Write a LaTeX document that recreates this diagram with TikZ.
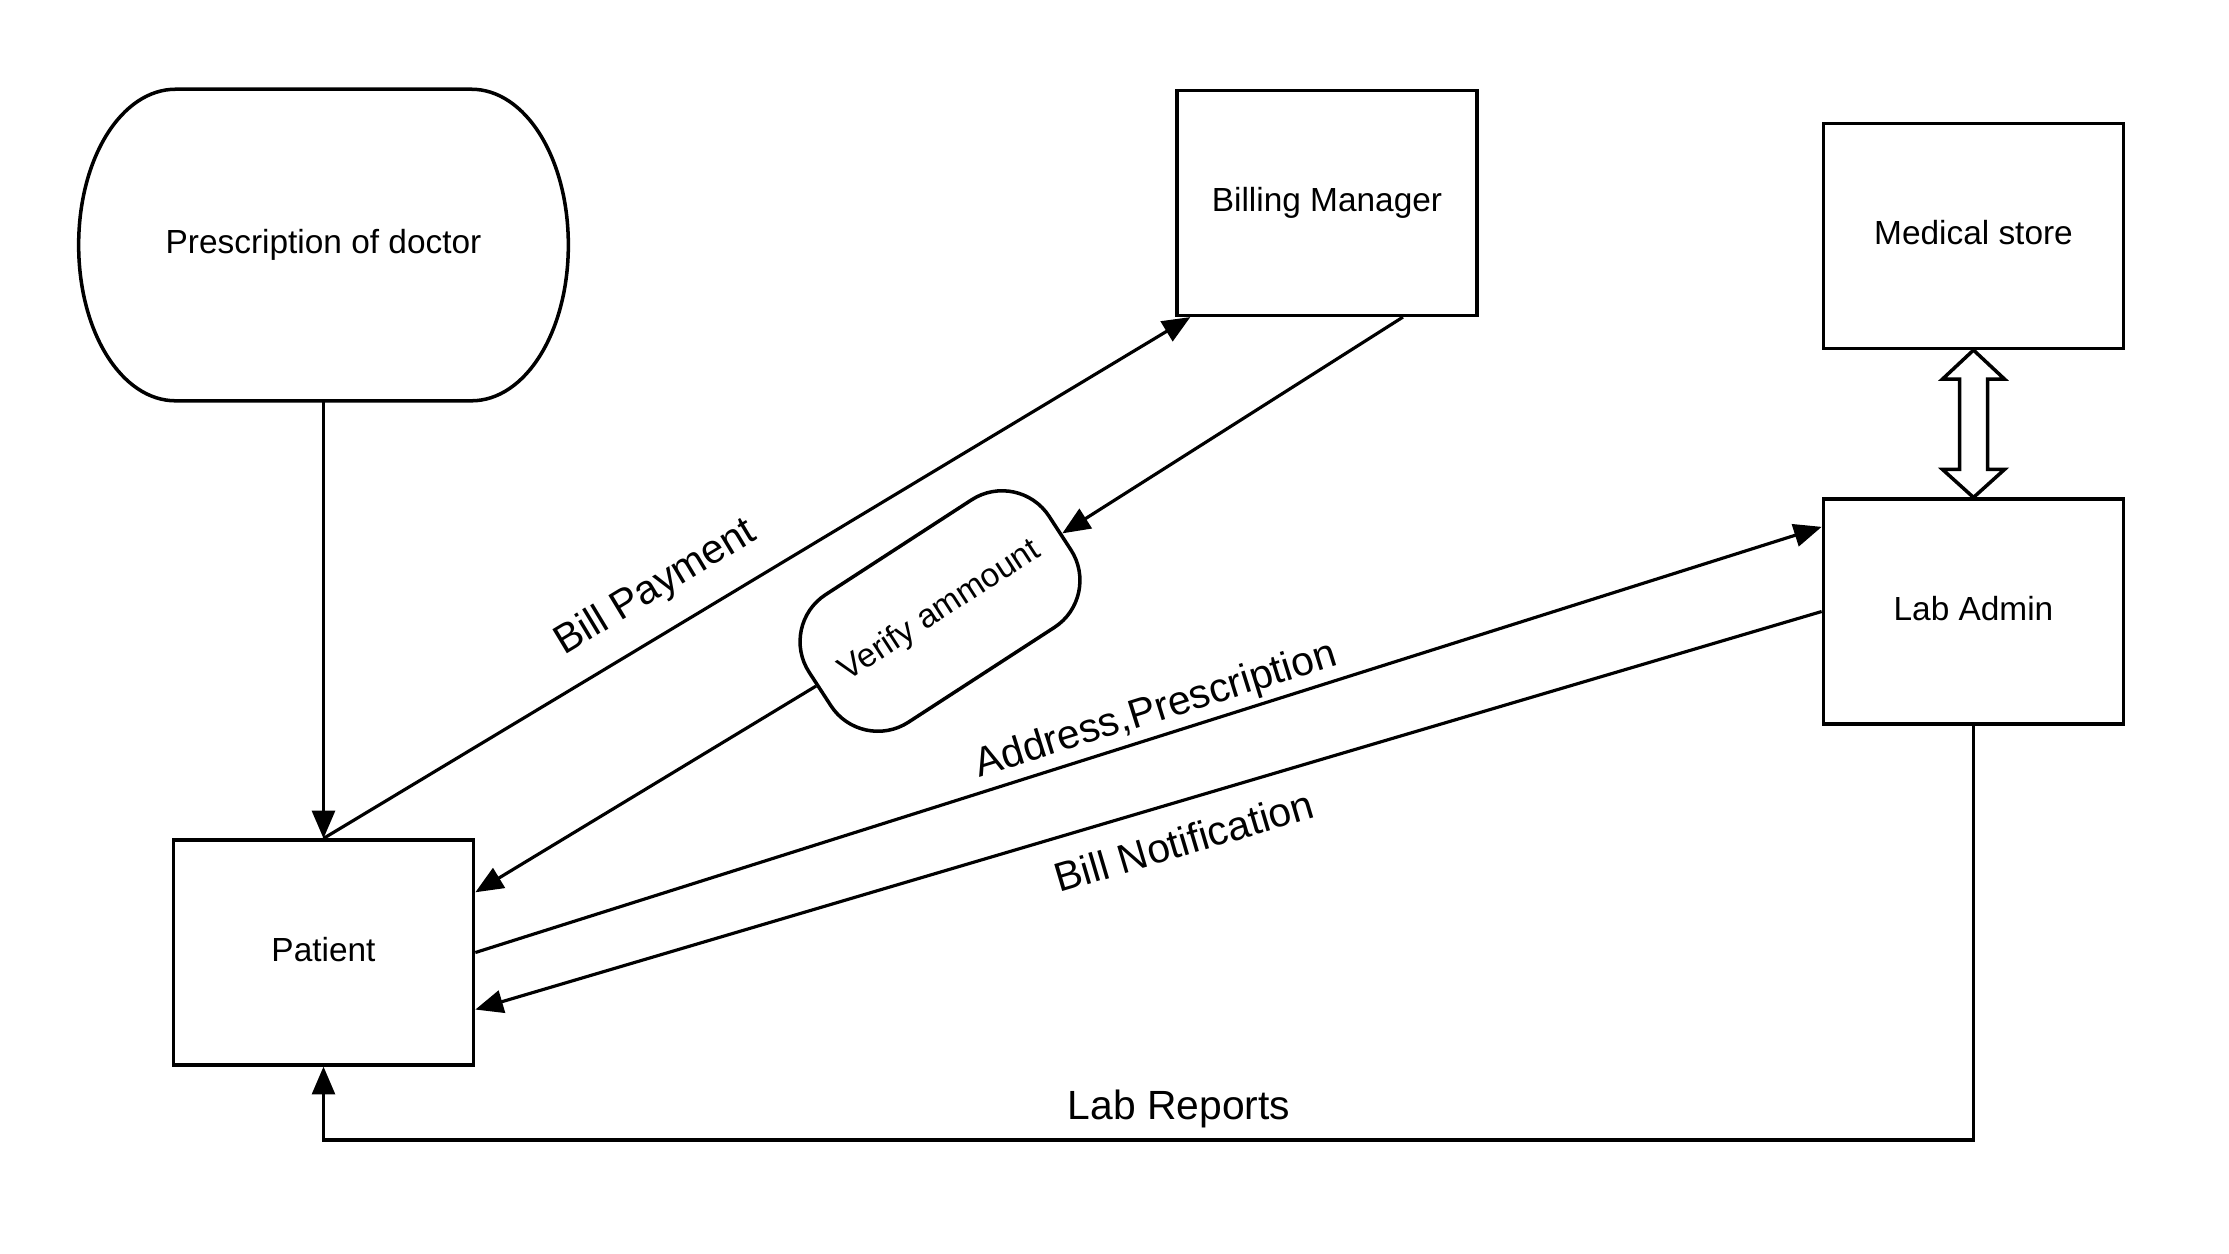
\documentclass[tikz,border=0pt]{standalone}
\usepackage{fontspec}
\setmainfont{Liberation Sans}
\usetikzlibrary{arrows.meta,calc}
\begin{document}
\begin{tikzpicture}[x=0.01cm,y=-0.01cm,
  nodefont/.style={font=\fontsize{9.5}{11}\selectfont,text height=0.72em,text depth=0.22em},
  box/.style={draw,line width=1pt,minimum width=3cm,minimum height=2.245cm,inner sep=0pt,nodefont},
  lbl/.style={font=\fontsize{11.6}{14}\selectfont,inner sep=0pt},
  conn/.style={line width=0.9pt,-{Triangle[length=7.9pt,width=6.5pt]}},
  outline/.style={line width=1pt}]
\useasboundingbox (0,0) rectangle (2229,1253);

% nodes
\node[nodefont,minimum width=4.88cm,minimum height=3.1cm,inner sep=0pt] (pd) at (323.5,245) {Prescription of doctor};
\draw[outline] ($(pd.north west)+(97,0)$) -- ($(pd.north east)+(-97,0)$)
  .. controls ($(pd.north east)+(-43,0)$) and ($(pd.east)+(0,-87)$) .. (pd.east)
  .. controls ($(pd.east)+(0,87)$) and ($(pd.south east)+(-43,0)$) .. ($(pd.south east)+(-97,0)$)
  -- ($(pd.south west)+(97,0)$)
  .. controls ($(pd.south west)+(43,0)$) and ($(pd.west)+(0,87)$) .. (pd.west)
  .. controls ($(pd.west)+(0,-87)$) and ($(pd.north west)+(43,0)$) .. cycle;

\node[box] (bm) at (1327,203) {Billing Manager};
\node[box] (ms) at (1973.5,236) {Medical store};
\node[box] (la) at (1973.5,611.5) {Lab Admin};
\node[box] (pat) at (323.5,952.5) {Patient};
\node[draw,line width=1pt,rounded corners=0.56cm,minimum width=2.86cm,minimum height=1.52cm,rotate=33,inner sep=0pt,font=\fontsize{9.5}{11}\selectfont] (va) at (940,611) {Verify ammount};

% connectors
\draw[conn] (pd.south) -- (pat.north);
\draw[conn] (pat.north) -- ($(bm.south west)!0.05!(bm.south east)$);
\draw[conn] ($(bm.south west)!0.75!(bm.south east)$) -- (va);
\draw[conn] (va) -- ($(pat.north east)!0.236!(pat.south east)$);
\draw[conn] (pat.east) -- ($(la.north west)!0.129!(la.south west)$);
\draw[conn] (la.west) -- ($(pat.north east)!0.75!(pat.south east)$);
\coordinate (lry) at (0,1140);
\draw[conn] (la.south) -- (la.south |- lry) -| (pat.south);

% double hollow arrow
\draw[outline,fill=white] (ms.south) -- ($(ms.south)+(31,29)$) -- ($(ms.south)+(14,29)$)
  -- ($(la.north)+(14,-28)$) -- ($(la.north)+(31,-28)$) -- (la.north)
  -- ($(la.north)+(-31,-28)$) -- ($(la.north)+(-14,-28)$)
  -- ($(ms.south)+(-14,29)$) -- ($(ms.south)+(-31,29)$) -- cycle;

% labels
\node[lbl,rotate=31.1] (lbp) at (656,588) {Bill Payment};
\node[lbl,rotate=17.4] (lap) at (1156,711) {Address,Prescription};
\node[lbl,rotate=16.5] (lbn) at (1184,841) {Bill Notification};
\node[lbl] (llr) at (1179,1109) {Lab Reports};
\end{tikzpicture}
\end{document}
